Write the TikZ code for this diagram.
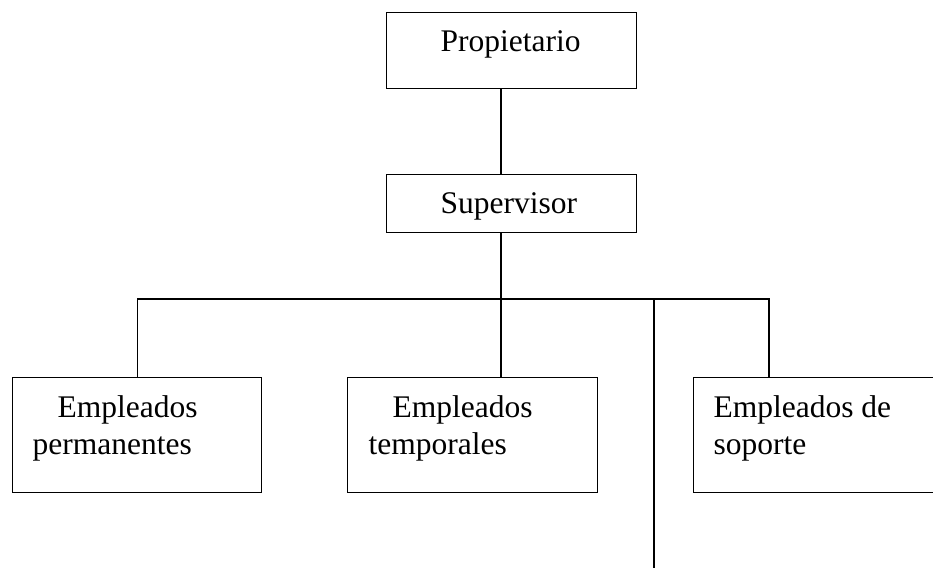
\documentclass[tikz,border=0pt]{standalone}
\usepackage{fontspec}
\setmainfont{Liberation Serif}
\begin{document}
\begin{tikzpicture}[x=1pt,y=-1pt,line width=1.2pt,
  box/.style={draw=black, rectangle, inner sep=0pt, anchor=north west},
  tag/.style={anchor=base west, inner sep=0pt, align=left,
    font=\fontsize{31.5}{37}\selectfont}]
\clip (0,0) rectangle (933,567);
% cajas
\node [box, minimum width=250pt, minimum height=76pt] (prop) at (386,12) {};
\node [box, minimum width=250pt, minimum height=58pt] (sup) at (386,174) {};
\node [box, minimum width=249pt, minimum height=115pt] (perm) at (12,377) {};
\node [box, minimum width=250pt, minimum height=115pt] (temp) at (347,377) {};
\node [box, minimum width=300pt, minimum height=115pt] (sop) at (693,377) {};
% textos
\node [tag] (tprop) at ([shift={(54,40)}]prop.north west) {Propietario};
\node [tag] (tsup) at ([shift={(54,39)}]sup.north west) {Supervisor};
\node [tag] (tperm) at ([shift={(20,77)}]perm.north west) {\hspace*{25pt}Empleados\\permanentes};
\node [tag] (ttemp) at ([shift={(21,77)}]temp.north west) {\hspace*{24pt}Empleados\\temporales};
\node [tag] (tsop) at ([shift={(20,77)}]sop.north west) {Empleados de\\soporte};
% lineas
\coordinate (trunk) at (501,299);
\coordinate (barR) at (769,299);
\coordinate (loose) at (654,299);
\coordinate (looseend) at (654,580);
\draw (prop.south -| trunk) -- (sup.north -| trunk);
\draw (sup.south -| trunk) -- (temp.north -| trunk);
\draw (perm.north) |- (barR) -- (barR |- sop.north);
\draw (loose) -- (looseend);
\end{tikzpicture}
\end{document}
